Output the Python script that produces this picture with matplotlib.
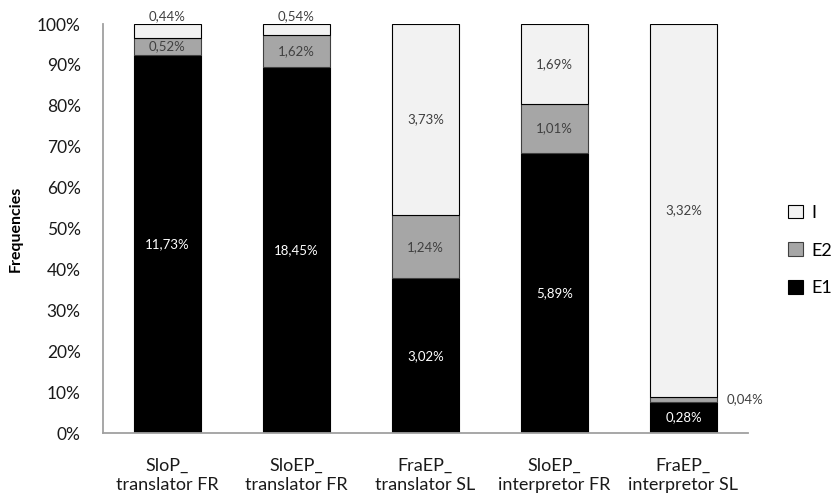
import matplotlib.pyplot as plt
import numpy as np

plt.rcParams['font.family'] = ['Lato', 'DejaVu Sans']

# category labels and raw frequencies (%) shown in the chart
categories = ['SloP_\ntranslator FR', 'SloEP_\ntranslator FR', 'FraEP_\ntranslator SL',
              'SloEP_\ninterpretor FR', 'FraEP_\ninterpretor SL']
e1 = [11.73, 18.45, 3.02, 5.89, 0.28]
e2 = [0.52, 1.62, 1.24, 1.01, 0.04]
i_vals = [0.44, 0.54, 3.73, 1.69, 3.32]

e1 = np.array(e1)
e2 = np.array(e2)
i_vals = np.array(i_vals)
tot = e1 + e2 + i_vals
p1 = e1 / tot * 100
p2 = e2 / tot * 100
p3 = i_vals / tot * 100

def fmt(v):
    return ('%.2f%%' % v).replace('.', ',')

fig = plt.figure(figsize=(8.38, 4.98), dpi=100)
ax = fig.add_axes([0.1229, 0.1305, 0.7697, 0.8213])

x = np.arange(len(categories))
w = 0.512
b1 = ax.bar(x, p1, w, color='black', edgecolor='black', linewidth=0.8, label='E1')
b2 = ax.bar(x, p2, w, bottom=p1, color='#A6A6A6', edgecolor='#404040', linewidth=0.8, label='E2')
b3 = ax.bar(x, p3, w, bottom=p1 + p2, color='#F2F2F2', edgecolor='black', linewidth=0.8, label='I')

lab_col = '#404040'
fs = 9.5
for k in range(len(x)):
    # E1 labels (white, inside)
    ax.text(x[k], p1[k] / 2, fmt(e1[k]), ha='center', va='center', color='white', fontsize=fs)
    # E2 labels
    if p2[k] > 3:
        ax.text(x[k], p1[k] + p2[k] / 2, fmt(e2[k]), ha='center', va='center', color=lab_col, fontsize=fs)
    else:
        ax.text(x[k] + w / 2 + 0.08, p1[k] + p2[k] / 2, fmt(e2[k]), ha='left', va='center',
                color=lab_col, fontsize=fs)
    # I labels
    if p3[k] > 5:
        ax.text(x[k], p1[k] + p2[k] + p3[k] / 2, fmt(i_vals[k]), ha='center', va='center',
                color=lab_col, fontsize=fs)
    else:
        ax.text(x[k], 102.0, fmt(i_vals[k]), ha='center', va='center', color=lab_col,
                fontsize=fs, clip_on=False)

ax.set_xlim(-0.5, len(x) - 0.5)
ax.set_ylim(0, 100)
ax.set_yticks(np.arange(0, 101, 10))
ax.set_yticklabels(['%d%%' % v for v in range(0, 101, 10)])
ax.set_xticks(x)
ax.set_xticklabels(categories, fontsize=13, linespacing=1.25)
ax.tick_params(axis='both', length=0, colors='#1a1a1a')
ax.tick_params(axis='y', labelsize=12.5, pad=16)
ax.tick_params(axis='x', pad=18)
for s in ['top', 'right']:
    ax.spines[s].set_visible(False)
for s in ['left', 'bottom']:
    ax.spines[s].set_color('#A0A0A0')
    ax.spines[s].set_linewidth(1.3)
ax.set_ylabel('Frequencies', fontsize=11.5, fontweight='bold', labelpad=10)

handles = [b3, b2, b1]
fig.legend(handles, ['I', 'E2', 'E1'], loc='center left', bbox_to_anchor=(0.932, 0.497),
           frameon=False, fontsize=13, handlelength=0.8, handleheight=0.8,
           handletextpad=0.5, labelspacing=1.2, borderaxespad=0)

fig.savefig('out.png', dpi=100)
